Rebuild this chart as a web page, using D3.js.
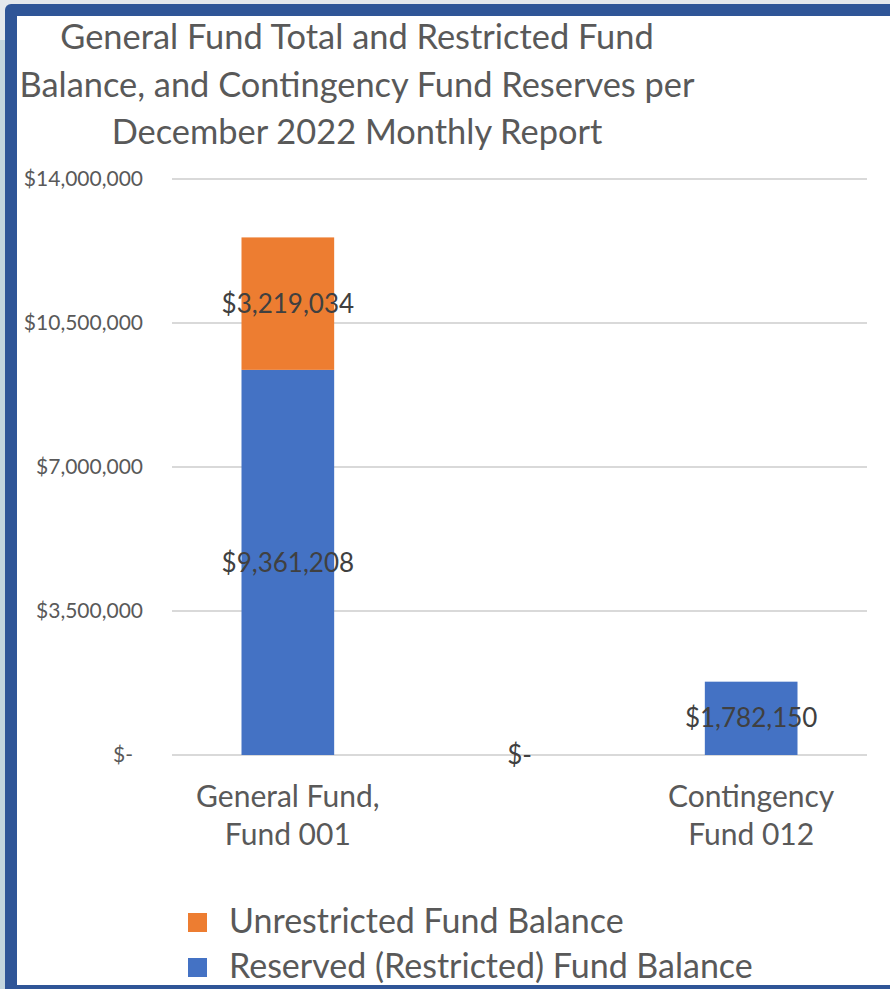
<!DOCTYPE html>
<html>
<head>
<meta charset="utf-8">
<script src="https://cdn.jsdelivr.net/npm/d3@7"></script>
<style>
  html, body { margin: 0; padding: 0; background: #e4e8ec; }
  svg { display: block; }
  text { font-family: Lato, "Open Sans", sans-serif; }
</style>
</head>
<body>
<svg id="chart" width="890" height="989"></svg>
<script>
// Fund balances, December 2022 monthly report
const categories = ["General Fund,\nFund 001", "", "Contingency\nFund 012"];
const seriesNames = ["Reserved (Restricted) Fund Balance", "Unrestricted Fund Balance"];
const reserved = [9361208, 0, 1782150];
const unrestricted = [3219034, null, null];
const yTicks = [0, 3500000, 7000000, 10500000, 14000000];
const titleLines = [
  "General Fund Total and Restricted Fund",
  "Balance, and Contingency Fund Reserves per",
  "December 2022 Monthly Report"
];

const W = 890, H = 989;
const colors = { reserved: "#4472c4", unrestricted: "#ed7d31" };
const svg = d3.select("#chart");

// frame: light backdrop, dark blue border, white panel
svg.append("rect").attr("x", 0).attr("y", 0).attr("width", W).attr("height", H).attr("fill", "#e4e8ec");
svg.append("rect").attr("x", 0).attr("y", 40).attr("width", 6).attr("height", H).attr("fill", "#c3d5de");
svg.append("rect").attr("x", 5).attr("y", 4).attr("width", W + 20).attr("height", H + 20)
  .attr("rx", 6).attr("fill", "#2f5597");
svg.append("rect").attr("x", 17).attr("y", 16).attr("width", W).attr("height", 969).attr("fill", "#ffffff");

// title
const title = svg.append("text").attr("fill", "#595959").attr("font-size", 34.4).attr("text-anchor", "middle");
titleLines.forEach((t, i) => {
  title.append("tspan").attr("x", 357).attr("y", 49 + i * 47.5).text(t);
});

// scales
const x = d3.scaleBand().domain(d3.range(categories.length)).range([172, 867]).paddingInner(0.6).paddingOuter(0.3);
const y = d3.scaleLinear().domain([0, 14000000]).range([755, 179]);

// grid lines
svg.append("g").selectAll("line").data(yTicks).join("line")
  .attr("x1", 172).attr("x2", 867)
  .attr("y1", d => y(d)).attr("y2", d => y(d))
  .attr("stroke", "#d9d9d9").attr("stroke-width", 2);

// y axis labels (accounting style)
const fmt = d => d === 0 ? "$-" : "$" + d3.format(",")(d);
const yAxis = d3.axisLeft(y).tickValues(yTicks).tickFormat(fmt).tickSize(0).tickPadding(0);
const ya = svg.append("g").attr("transform", "translate(143,0)").call(yAxis);
ya.select(".domain").remove();
ya.selectAll("text").attr("font-size", 21).attr("fill", "#595959")
  .attr("font-family", "Lato, 'Open Sans', sans-serif")
  .attr("dx", d => d === 0 ? -10 : 0);

// stacked bars
const rows = categories.map((c, i) => ({ i, reserved: reserved[i], unrestricted: unrestricted[i] || 0 }));
const stack = d3.stack().keys(["reserved", "unrestricted"])(rows);
svg.append("g").selectAll("g").data(stack).join("g")
  .attr("fill", d => colors[d.key])
  .selectAll("rect").data(d => d).join("rect")
  .attr("x", d => x(d.data.i))
  .attr("width", x.bandwidth())
  .attr("y", d => y(d[1]))
  .attr("height", d => y(d[0]) - y(d[1]));

// data labels centred in each segment
const labels = [];
stack.forEach(s => {
  const src = s.key === "reserved" ? reserved : unrestricted;
  s.forEach(d => {
    const v = src[d.data.i];
    if (v === null || v === undefined) return;
    labels.push({ x: x(d.data.i) + x.bandwidth() / 2, y: (y(d[0]) + y(d[1])) / 2, v });
  });
});
svg.append("g").selectAll("text").data(labels).join("text")
  .attr("x", d => d.x).attr("y", d => d.y)
  .attr("dy", "0.35em")
  .attr("text-anchor", "middle")
  .attr("font-size", 26).attr("fill", "#404040")
  .text(d => d.v === 0 ? "$-" : "$" + d3.format(",")(d.v));

// category labels
const cat = svg.append("g").selectAll("text").data(categories).join("text")
  .attr("text-anchor", "middle").attr("font-size", 30).attr("fill", "#595959");
cat.each(function(c, i) {
  c.split("\n").forEach((line, j) => {
    d3.select(this).append("tspan").attr("x", x(i) + x.bandwidth() / 2).attr("y", 807 + j * 38).text(line);
  });
});

// legend
const legendItems = [
  { name: seriesNames[1], color: colors.unrestricted },
  { name: seriesNames[0], color: colors.reserved }
];
const lg = svg.append("g").selectAll("g").data(legendItems).join("g")
  .attr("transform", (d, i) => `translate(188,${913 + i * 45})`);
lg.append("rect").attr("width", 19).attr("height", 19).attr("fill", d => d.color);
lg.append("text").attr("x", 41).attr("y", 20).attr("font-size", 34).attr("fill", "#595959").text(d => d.name);
</script>
</body>
</html>
